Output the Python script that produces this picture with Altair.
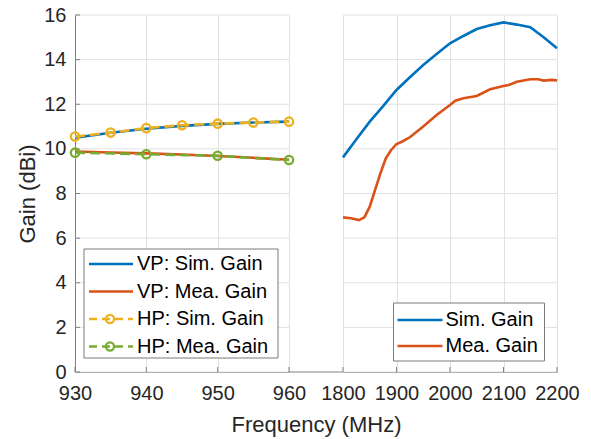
import altair as alt
import pandas as pd

# ---------------- data ----------------
# left panel (930-960 MHz)
l_freq = [930, 935, 940, 945, 950, 955, 960]
vp_sim = [10.50, 10.72, 10.90, 11.03, 11.12, 11.18, 11.22]
vp_mea = [9.88, 9.84, 9.80, 9.75, 9.68, 9.60, 9.51]
hp_sim = [10.55, 10.73, 10.93, 11.06, 11.13, 11.18, 11.22]
hp_mea_freq = [930, 940, 950, 960]
hp_mea = [9.83, 9.76, 9.69, 9.50]

# right panel (1800-2200 MHz)
r_sim_freq = [1800, 1825, 1850, 1875, 1900, 1925, 1950, 1975, 2000,
              2025, 2050, 2075, 2100, 2125, 2150, 2175, 2200]
r_sim = [9.62, 10.43, 11.22, 11.92, 12.64, 13.21, 13.76, 14.25, 14.73,
         15.06, 15.37, 15.54, 15.67, 15.57, 15.45, 15.00, 14.51]
r_mea_freq = [1800, 1815, 1830, 1840, 1850, 1860, 1870, 1880, 1890, 1900,
              1910, 1925, 1950, 1975, 2000, 2010, 2025, 2050, 2075, 2100,
              2110, 2125, 2150, 2165, 2175, 2190, 2200]
r_mea = [6.93, 6.89, 6.81, 6.93, 7.41, 8.16, 8.91, 9.58, 9.95, 10.22,
         10.32, 10.52, 11.00, 11.52, 11.97, 12.16, 12.27, 12.37, 12.67, 12.82,
         12.86, 13.01, 13.12, 13.12, 13.06, 13.09, 13.07]

left_ticks = [930, 940, 950, 960]
right_ticks = [1800, 1900, 2000, 2100, 2200]
y_ticks = [0, 2, 4, 6, 8, 10, 12, 14, 16]

left_labels = ["VP: Sim. Gain", "VP: Mea. Gain", "HP: Sim. Gain", "HP: Mea. Gain"]
right_labels = ["Sim. Gain", "Mea. Gain"]

# ---------------- style ----------------
BLUE, ORANGE, YELLOW, GREEN = "#0072BD", "#D95319", "#EDB120", "#77AC30"
FONT = "Liberation Sans"
AXIS_COL = "#808080"
GRID_COL = "#e1e1e1"
LW = 2.6
W_L, W_R, H, GAP = 214, 214, 357, 54
R0 = W_L + GAP            # left edge of right panel
W = R0 + W_R              # total plot width

ys = alt.Scale(domain=[0, 16], nice=False, zero=False)
y_axis = alt.Axis(values=y_ticks, title="Gain (dBi)", grid=False, ticks=False, tickSize=0,
                  labelPadding=9, labelFlush=False, labelOverlap=False, format="d",
                  titleX=-48, titleY=H / 2, titleAngle=270, titleAlign="center",
                  titleBaseline="middle", titleFontSize=22)

xl = alt.Scale(domain=[930, 960], range=[0, W_L], nice=False, zero=False)
xr = alt.Scale(domain=[1800, 2200], range=[R0, W], nice=False, zero=False)
x_axis_l = alt.Axis(values=left_ticks, title="Frequency (MHz)", orient="bottom", grid=True,
                    ticks=False, tickSize=0, labelPadding=11, labelFlush=False,
                    labelOverlap=False, titleX=W / 2, titleY=52, titleAlign="center",
                    titleBaseline="middle", titleFontSize=22)
x_axis_r = alt.Axis(values=right_ticks, title=None, orient="bottom", grid=True, ticks=False,
                    tickSize=0, labelPadding=11, labelFlush=False, labelOverlap=False,
                    format="d")


def one():
    return pd.DataFrame({"k": [0]})


def line_df(f, g):
    return pd.DataFrame({"f": f, "g": g})


def legend_box(x1, x2, y1, y2):
    return alt.Chart(one()).mark_rect(fill="white", stroke="#7a7a7a", strokeWidth=1).encode(
        x=alt.value(x1), x2=alt.value(x2), y=alt.value(y1), y2=alt.value(y2))


def legend_entry(label, color, x1, x2, xt, y, dashed=False, marker=False):
    kw = dict(color=color, strokeWidth=LW)
    if dashed:
        kw["strokeDash"] = [8, 5]
    layers = [alt.Chart(one()).mark_rule(**kw).encode(
        x=alt.value(x1), x2=alt.value(x2), y=alt.value(y))]
    if marker:
        layers.append(alt.Chart(one()).mark_point(
            filled=False, size=65, strokeWidth=2.3, color=color, opacity=1).encode(
            x=alt.value((x1 + x2) / 2 - 1), y=alt.value(y)))
    layers.append(alt.Chart(one()).mark_text(
        text=label, align="left", baseline="middle", fontSize=20, font=FONT,
        color="#000000").encode(x=alt.value(xt), y=alt.value(y)))
    return layers


def yenc():
    return alt.Y("g:Q", scale=ys, axis=y_axis)


# horizontal grid lines, one segment per panel
hgrid = [
    alt.Chart(pd.DataFrame({"g": y_ticks})).mark_rule(color=GRID_COL, strokeWidth=1).encode(
        y=yenc(), x=alt.value(a), x2=alt.value(b))
    for a, b in [(0, W_L), (R0, W)]
]
ytick = alt.Chart(pd.DataFrame({"g": y_ticks})).mark_rule(color=AXIS_COL, strokeWidth=1).encode(
    y=yenc(), x=alt.value(0), x2=alt.value(5))
gap_rule = alt.Chart(one()).mark_rule(color=AXIS_COL, strokeWidth=1).encode(
    x=alt.value(W_L), x2=alt.value(R0), y=alt.value(H))


# ---------------- left panel ----------------
def xlenc():
    return alt.X("f:Q", scale=xl, axis=x_axis_l)


def lline(f, g, color, dashed=False):
    kw = dict(color=color, strokeWidth=LW)
    if dashed:
        kw["strokeDash"] = [10, 5]
    return alt.Chart(line_df(f, g)).mark_line(**kw).encode(x=xlenc(), y=yenc())


def lpts(f, g, color):
    return alt.Chart(line_df(f, g)).mark_point(
        filled=False, size=70, strokeWidth=2.3, color=color, opacity=1).encode(
        x=xlenc(), y=yenc())


xtick_l = alt.Chart(pd.DataFrame({"f": left_ticks})).mark_rule(color=AXIS_COL, strokeWidth=1).encode(
    x=xlenc(), y=alt.value(H - 5), y2=alt.value(H))

l_rows = [249, 276.5, 304, 331.5]
left_legend = [legend_box(9, 203, 234, 343)]
left_legend += legend_entry(left_labels[0], BLUE, 14, 58, 62, l_rows[0])
left_legend += legend_entry(left_labels[1], ORANGE, 14, 58, 62, l_rows[1])
left_legend += legend_entry(left_labels[2], YELLOW, 14, 58, 62, l_rows[2], dashed=True, marker=True)
left_legend += legend_entry(left_labels[3], GREEN, 14, 58, 62, l_rows[3], dashed=True, marker=True)

left = alt.layer(
    xtick_l,
    lline(l_freq, vp_sim, BLUE),
    lline(l_freq, vp_mea, ORANGE),
    lline(l_freq, hp_sim, YELLOW, dashed=True),
    lpts(l_freq, hp_sim, YELLOW),
    lline(hp_mea_freq, hp_mea, GREEN, dashed=True),
    lpts(hp_mea_freq, hp_mea, GREEN),
)


# ---------------- right panel ----------------
def xrenc():
    return alt.X("f:Q", scale=xr, axis=x_axis_r)


def rline(f, g, color):
    return alt.Chart(line_df(f, g)).mark_line(color=color, strokeWidth=LW).encode(
        x=xrenc(), y=yenc())


xtick_r = alt.Chart(pd.DataFrame({"f": right_ticks})).mark_rule(color=AXIS_COL, strokeWidth=1).encode(
    x=xrenc(), y=alt.value(H - 5), y2=alt.value(H))

r_rows = [305, 331]
right_legend = [legend_box(R0 + 50.5, R0 + 201.5, 288, 346)]
right_legend += legend_entry(right_labels[0], BLUE, R0 + 54.5, R0 + 99.5, R0 + 102.5, r_rows[0])
right_legend += legend_entry(right_labels[1], ORANGE, R0 + 54.5, R0 + 99.5, R0 + 102.5, r_rows[1])

right = alt.layer(
    xtick_r,
    rline(r_sim_freq, r_sim, BLUE),
    rline(r_mea_freq, r_mea, ORANGE),
)

legends = alt.layer(*left_legend, *right_legend)

chart = alt.layer(
    *hgrid, ytick, gap_rule, left, right, legends,
).resolve_scale(x="independent").properties(
    width=W, height=H,
    autosize=alt.AutoSizeParams(type="none"),
    padding={"left": 75, "top": 15, "right": 34, "bottom": 67},
    background="white",
).configure_view(stroke=None).configure_axis(
    domainColor=AXIS_COL, domainWidth=1, gridColor=GRID_COL, gridWidth=1,
    labelFont=FONT, labelFontSize=20, labelColor="#262626",
    titleFont=FONT, titleColor="#262626", titleFontWeight="normal",
)

chart.save("out.html", embed_options={"renderer": "svg", "actions": False})
